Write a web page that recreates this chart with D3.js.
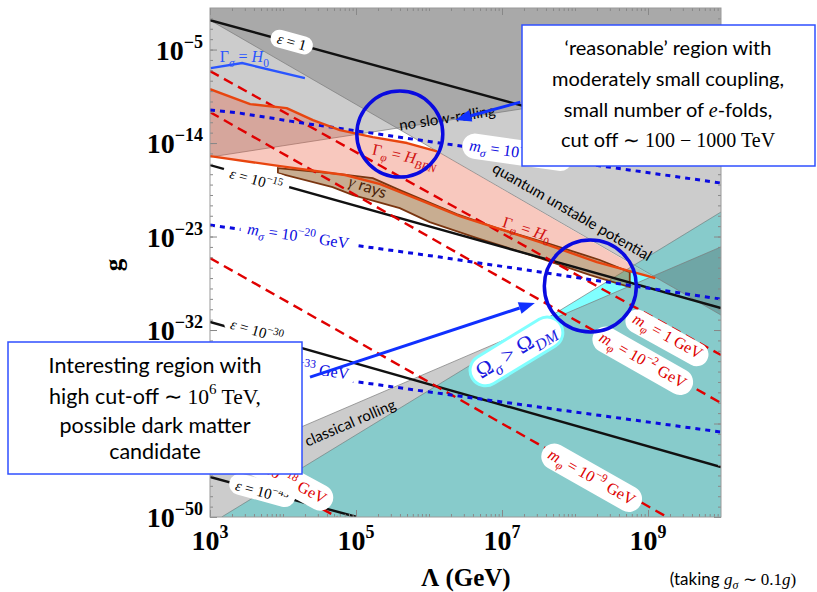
<!DOCTYPE html>
<html>
<head>
<meta charset="utf-8">
<script src="https://cdn.jsdelivr.net/npm/d3@7"></script>
<style>
  body { margin: 0; background: #fff; }
  text { font-family: "Liberation Serif", serif; }
  .sans { font-family: Lato, "Open Sans", sans-serif; }
</style>
</head>
<body>
<svg id="chart" width="817" height="592"></svg>
<script>
// every point is [log10(Λ / GeV), log10(g)]
const xTickExps = [3, 5, 7, 9];
const yTickExps = [-50, -41, -32, -23, -14, -5];
const yLabelExps = [-50, -32, -23, -14, -5]; // the 10^-41 label sits under the box

// edges of the shaded regions
const noSlowRollEdge = [[3, -15.35], [10, -7.75]];
const quantumEdge = [[3, -2.17], [10, -30.56]];
const classicalEdge = [[3, -45.1], [10, -24.0]];
const relicEdge = [[3.16, -50], [10, -20.64]];

// decay curves
const gammaPhiBBN = [[3, -8.81], [3.55, -10.25], [4.05, -10.64], [4.41, -11.79], [4.78, -12.75],
  [5.23, -13.43], [5.70, -14.0], [6.11, -14.8]];
const gammaPhiH0 = [[3, -15.26], [3.96, -16.22], [4.85, -17.08], [5.33, -17.95], [5.88, -19.49],
  [6.42, -21.03], [6.93, -22.19], [7.52, -23.53], [8.30, -25.46], [9.10, -27.0]];
const gammaSigmaH0 = [[3.01, -6.79], [3.44, -6.30], [4.30, -7.75]];
const gammaRayTop = [[3.93, -16.41], [4.78, -16.99], [5.23, -17.38], [5.60, -18.53], [6.38, -20.84],
  [6.93, -22.19], [7.66, -23.72], [8.34, -25.26], [8.75, -26.42]];
const gammaRayBottom = [[8.75, -27.86], [8.21, -26.71], [7.52, -25.07], [6.66, -23.15], [6.01, -21.61],
  [5.60, -20.26], [4.96, -19.01], [4.68, -18.24], [3.93, -16.89]];

// contours
const epsilonNames = ["1", "−15", "−30", "−45"];
const epsilonLines = [
  [[3, -2.17], [10, -15.64]],
  [[3, -16.12], [10, -29.88]],
  [[3, -31.23], [10, -45.19]],
  [[3, -46.15], [5.01, -50]]
];
const epsilonLabelAt = [[4.12, -4.28], [3.63, -17.57], [3.64, -32.1], [3.71, -47.59]];

const mPhiNames = ["1", "−2", "−9", "−18"];
const mPhiLines = [
  [[3, -7.07], [10, -34.41]],
  [[3, -11.02], [10, -39.03]],
  [[3, -25.07], [9.26, -50]],
  [[3, -43.36], [4.74, -50]]
];
const mPhiLabelAt = [[9.27, -32.58], [8.93, -34.89], [8.23, -46.15], [3.96, -45.96]];

const mSigmaNames = ["−9", "−20", "−33"];
const mSigmaLines = [
  [[3, -10.83], [3.41, -11.12], [4.10, -11.89], [4.74, -12.56], [6.15, -14.0], [10, -17.85]],
  [[3, -21.90], [6.15, -24.98], [10, -29.02]],
  [[3, -34.99], [6.01, -37.97], [10, -41.82]]
];
const mSigmaLabelAt = [[7.21, -14.87], [4.21, -22.95], [4.21, -35.56]];

// annotations
const circleCentres = [[5.60, -13.14], [8.21, -27.77]];
const arrowEnds = [
  [[7.25, -10.06], [6.36, -11.79]],
  [[4.37, -36.53], [7.45, -29.40]]
];

const LG = "#cccccc", DG = "#a9a9a9", CYAN = "#80ffff", TEAL = "#87cbcb", DTEAL = "#6fa6a6";
const RED = "#e00000", ORANGE = "#e8450f", BLUE = "#0a0ae0";

const svg = d3.select("#chart");
const frame = {left: 210, right: 721, top: 8, bottom: 517};
const x = d3.scaleLog().domain([1e3, 1e10]).range([frame.left, frame.right]);
const y = d3.scaleLog().domain([1e-50, 1e-1]).range([frame.bottom, frame.top]);
const X = p => x(10 ** p[0]);
const Y = p => y(10 ** p[1]);
const line = d3.line().x(X).y(Y);
const area = pts => line(pts) + "Z";
const lineAngle = pts => {
  const a = pts[0], b = pts[pts.length - 1];
  return Math.atan2(Y(b) - Y(a), X(b) - X(a)) * 180 / Math.PI;
};

const corners = {tl: [3, -1], tr: [10, -1], bl: [3, -50], br: [10, -50]};
const regionA = [...noSlowRollEdge, corners.tr, corners.tl];
const regionB = [...quantumEdge, corners.tr, corners.tl];
const regionC = [...classicalEdge, corners.br, corners.bl];
const regionT = [...relicEdge, corners.br];

const defs = svg.append("defs");
const addClip = (id, d) => defs.append("clipPath").attr("id", id).append("path").attr("d", d);
addClip("clip-plot", area([corners.bl, corners.br, corners.tr, corners.tl]));
addClip("clip-a", area(regionA));
addClip("clip-b", area(regionB));
addClip("clip-t", area(regionT));

const plot = svg.append("g").attr("clip-path", "url(#clip-plot)");

// grey regions
plot.append("path").attr("d", area(regionA)).attr("fill", LG);
plot.append("path").attr("d", area(regionB)).attr("fill", LG);
plot.append("g").attr("clip-path", "url(#clip-a)")
  .append("path").attr("d", area(regionB)).attr("fill", DG);
plot.append("path").attr("d", area(regionC)).attr("fill", LG);

// relic abundance region
plot.append("path").attr("d", area(regionT)).attr("fill", CYAN);
const teal = plot.append("g").attr("clip-path", "url(#clip-t)");
teal.append("path").attr("d", area(regionC)).attr("fill", TEAL);
teal.append("path").attr("d", area(regionB)).attr("fill", TEAL);
teal.append("g").attr("clip-path", "url(#clip-b)")
  .append("path").attr("d", area(regionC)).attr("fill", DTEAL);

[noSlowRollEdge, quantumEdge, classicalEdge, relicEdge].forEach(e =>
  plot.append("path").attr("d", line(e)).attr("fill", "none").attr("stroke", "#7a7a7a").attr("stroke-width", 0.7));

// phi decay band and gamma rays
plot.append("path").attr("d", area(gammaPhiBBN.concat(gammaPhiH0.slice().reverse())))
  .attr("fill", "rgb(235,95,65)").attr("fill-opacity", 0.34);
plot.append("path").attr("d", area(gammaRayTop.concat(gammaRayBottom)))
  .attr("fill", "rgb(155,105,55)").attr("fill-opacity", 0.55)
  .attr("stroke", "#7a3510").attr("stroke-width", 1.8);

// contour lines
epsilonLines.forEach(l => plot.append("path").attr("d", line(l)).attr("fill", "none")
  .attr("stroke", "#111").attr("stroke-width", 2.4));
mPhiLines.forEach(l => plot.append("path").attr("d", line(l)).attr("fill", "none")
  .attr("stroke", RED).attr("stroke-width", 2.4).attr("stroke-dasharray", "10,6"));
mSigmaLines.forEach(l => plot.append("path").attr("d", line(l)).attr("fill", "none")
  .attr("stroke", BLUE).attr("stroke-width", 3).attr("stroke-dasharray", "5,5"));
plot.append("path").attr("d", line(gammaSigmaH0)).attr("fill", "none")
  .attr("stroke", "#2a55ff").attr("stroke-width", 2.4);
[gammaPhiBBN, gammaPhiH0].forEach(l => plot.append("path").attr("d", line(l)).attr("fill", "none")
  .attr("stroke", ORANGE).attr("stroke-width", 2.4).attr("stroke-linejoin", "round"));

// labels
const labels = svg.append("g");
function mathText(g, parts, size) {
  const t = g.append("text").attr("font-size", size).attr("text-anchor", "middle").attr("y", size * 0.33);
  let shift = 0;
  for (const [s, st = ""] of parts) {
    const sub = st.includes("b"), sup = st.includes("p");
    const target = sub ? size * 0.28 : sup ? -size * 0.42 : 0;
    const ts = t.append("tspan").text(s).attr("dy", target - shift);
    shift = target;
    if (sub || sup) ts.attr("font-size", size * 0.72);
    if (st.includes("i")) ts.attr("font-style", "italic");
    if (st.includes("s")) ts.attr("class", "sans");
  }
  return t;
}
function placeLabel(at, angle, parts, opts = {}) {
  const g = labels.append("g").attr("transform", `translate(${X(at)},${Y(at)}) rotate(${angle})`);
  const bg = opts.pill ? g.append("rect") : null;
  const t = mathText(g, parts, opts.size || 14).attr("fill", opts.color || "#000");
  if (bg) {
    const b = t.node().getBBox();
    bg.attr("x", b.x - 7).attr("y", b.y - 1).attr("width", b.width + 14).attr("height", b.height + 2)
      .attr("rx", (b.height + 2) / 2).attr("fill", "#fff")
      .attr("stroke", opts.stroke || "none").attr("stroke-width", 3);
  }
  return t;
}
const tenTo = e => e === "1" ? [[" = 1"]] : [[" = 10"], [e, "p"]];

epsilonLines.forEach((l, i) => placeLabel(epsilonLabelAt[i], lineAngle(l),
  [["ε", "i"], ...tenTo(epsilonNames[i])], {pill: true, size: 15}));
mPhiLines.forEach((l, i) => placeLabel(mPhiLabelAt[i], lineAngle(l),
  [["m", "i"], ["φ", "ib"], ...(mPhiNames[i] === "1" ? [[" = 1 GeV"]] : [...tenTo(mPhiNames[i]), [" GeV"]])],
  {pill: true, size: 16, color: "#d00"}));
mSigmaLines.forEach((l, i) => placeLabel(mSigmaLabelAt[i], lineAngle(l),
  [["m", "i"], ["σ", "ib"], ...tenTo(mSigmaNames[i]), [" GeV"]],
  {pill: true, size: 16, color: BLUE}));

placeLabel([3.47, -5.73], 0, [["Γ"], ["σ", "ib"], [" = "], ["H", "i"], ["0", "b"]], {color: "#2a55ff", size: 16});
placeLabel([5.67, -15.26], lineAngle(gammaPhiBBN.slice(4)),
  [["Γ"], ["φ", "ib"], [" = "], ["H", "i"], ["BBN", "ib"]], {color: "#d01010", size: 16});
placeLabel([7.34, -22.28], lineAngle(gammaPhiH0.slice(5, 8)),
  [["Γ"], ["φ", "ib"], [" = "], ["H", "i"], ["0", "b"]], {color: "#d01010", size: 16});
placeLabel([5.16, -18.24], lineAngle(gammaRayTop.slice(1, 5)),
  [["γ", "i"], [" rays", "s"]], {color: "#4a1f08", size: 16});
placeLabel([6.25, -11.6], lineAngle(noSlowRollEdge), [["no slow-rolling", "s"]], {size: 15});
placeLabel([7.96, -20.64], lineAngle(quantumEdge), [["quantum unstable potential", "s"]], {size: 15});
placeLabel([4.92, -40.95], lineAngle(classicalEdge), [["classical rolling", "s"]], {size: 15});
placeLabel([7.18, -33.93], lineAngle(relicEdge),
  [["Ω"], ["σ", "ib"], [" > Ω"], ["DM", "ib"]], {pill: true, stroke: "#80ffff", size: 22, color: "#1a1ae0"});

// axes frame and ticks
const ax = svg.append("g").attr("color", "#888");
const minorX = d3.range(3, 10).flatMap(k => d3.range(1, 10).map(m => m * 10 ** k)).filter(v => v > 1e3 && v < 1e10);
const minorY = d3.range(-49, -1).map(k => 10 ** k);
const tickAxis = (axisFn, vals, size, tr) => {
  const g = ax.append("g").attr("transform", tr)
    .call(axisFn.tickValues(vals).tickSizeInner(size).tickSizeOuter(0).tickFormat(""));
  g.select(".domain").remove();
};
tickAxis(d3.axisBottom(x), xTickExps.map(e => 10 ** e), -7, `translate(0,${frame.bottom})`);
tickAxis(d3.axisBottom(x), minorX, -3, `translate(0,${frame.bottom})`);
tickAxis(d3.axisTop(x), xTickExps.map(e => 10 ** e), -7, `translate(0,${frame.top})`);
tickAxis(d3.axisTop(x), minorX, -3, `translate(0,${frame.top})`);
tickAxis(d3.axisLeft(y), yTickExps.map(e => 10 ** e), -7, `translate(${frame.left},0)`);
tickAxis(d3.axisLeft(y), minorY, -3, `translate(${frame.left},0)`);
tickAxis(d3.axisRight(y), yTickExps.map(e => 10 ** e), -7, `translate(${frame.right},0)`);
tickAxis(d3.axisRight(y), minorY, -3, `translate(${frame.right},0)`);
ax.append("rect").attr("x", frame.left).attr("y", frame.top)
  .attr("width", frame.right - frame.left).attr("height", frame.bottom - frame.top)
  .attr("fill", "none").attr("stroke", "#9a9a9a").attr("stroke-width", 1);

const tickLabels = svg.append("g").attr("font-weight", "bold").attr("font-size", 28);
tickLabels.selectAll("text.xl").data(xTickExps).join("text").attr("class", "xl")
  .attr("x", e => x(10 ** e)).attr("y", 550).attr("text-anchor", "middle")
  .each(function (e) {
    const t = d3.select(this);
    t.append("tspan").text("10");
    t.append("tspan").attr("font-size", 18).attr("dy", -12).text(e);
  });
tickLabels.selectAll("text.yl").data(yLabelExps).join("text").attr("class", "yl")
  .attr("x", 203).attr("y", e => y(10 ** e) + 10).attr("text-anchor", "end")
  .each(function (e) {
    const t = d3.select(this);
    t.append("tspan").text("10");
    t.append("tspan").attr("font-size", 18).attr("dy", -12).text(String(e).replace("-", "−"));
  });

svg.append("text").attr("transform", "translate(122,265) rotate(-90)").attr("text-anchor", "middle")
  .attr("font-weight", "bold").attr("font-size", 25).text("g");
svg.append("text").attr("x", 466).attr("y", 586).attr("text-anchor", "middle")
  .attr("font-weight", "bold").attr("font-size", 25).text("Λ (GeV)");
const note = svg.append("text").attr("x", 733).attr("y", 585).attr("text-anchor", "middle").attr("font-size", 17);
note.append("tspan").attr("class", "sans").text("(taking ");
note.append("tspan").attr("font-style", "italic").text("g");
note.append("tspan").attr("font-style", "italic").attr("font-size", 12).attr("dy", 4).text("σ");
note.append("tspan").attr("dy", -4).text(" ∼ 0.1");
note.append("tspan").attr("font-style", "italic").text("g");
note.append("tspan").text(")");

// circles and arrows
const notes = svg.append("g");
circleCentres.forEach((c, i) => notes.append("circle").attr("cx", X(c)).attr("cy", Y(c))
  .attr("r", i === 0 ? 43 : 46).attr("fill", "none").attr("stroke", BLUE).attr("stroke-width", 3.5));
arrowEnds.forEach(([a, b]) => {
  const x0 = X(a), y0 = Y(a), x1 = X(b), y1 = Y(b);
  const len = Math.hypot(x1 - x0, y1 - y0), ux = (x1 - x0) / len, uy = (y1 - y0) / len;
  const bx = x1 - ux * 16, by = y1 - uy * 16;
  notes.append("line").attr("x1", x0).attr("y1", y0).attr("x2", bx).attr("y2", by)
    .attr("stroke", "#1030ff").attr("stroke-width", 3);
  notes.append("path").attr("fill", "#1030ff")
    .attr("d", `M${x1},${y1}L${bx - uy * 6},${by + ux * 6}L${bx + uy * 6},${by - ux * 6}Z`);
});

// text boxes
function textBox(x0, y0, w, h, cx, lines, size) {
  const g = svg.append("g");
  g.append("rect").attr("x", x0).attr("y", y0).attr("width", w).attr("height", h)
    .attr("fill", "#fff").attr("stroke", "#2f4fff").attr("stroke-width", 1.5);
  lines.forEach(([base, parts]) => {
    const t = g.append("text").attr("x", cx).attr("y", base).attr("text-anchor", "middle").attr("font-size", size);
    let shift = 0;
    parts.forEach(([s, st = "s"]) => {
      const sup = st.includes("p");
      const target = sup ? -size * 0.45 : 0;
      const ts = t.append("tspan").text(s).attr("dy", target - shift);
      shift = target;
      if (sup) ts.attr("font-size", size * 0.7);
      if (st.includes("s")) ts.attr("class", "sans");
      if (st.includes("i")) ts.attr("font-style", "italic");
    });
  });
}
textBox(522, 25, 293, 141, 668, [
  [55, [["‘reasonable’ region with"]]],
  [86, [["moderately small coupling,"]]],
  [117, [["small number of "], ["e", "i"], ["-folds,"]]],
  [147, [["cut off "], ["∼ 100 − 1000 TeV", "r"]]]
], 20);
textBox(8, 342, 294, 132, 155, [
  [373, [["Interesting region with"]]],
  [404, [["high cut-off "], ["∼ 10", "r"], ["6", "p"], [" TeV,", "r"]]],
  [433, [["possible dark matter"]]],
  [459, [["candidate"]]]
], 21.5);
</script>
</body>
</html>
